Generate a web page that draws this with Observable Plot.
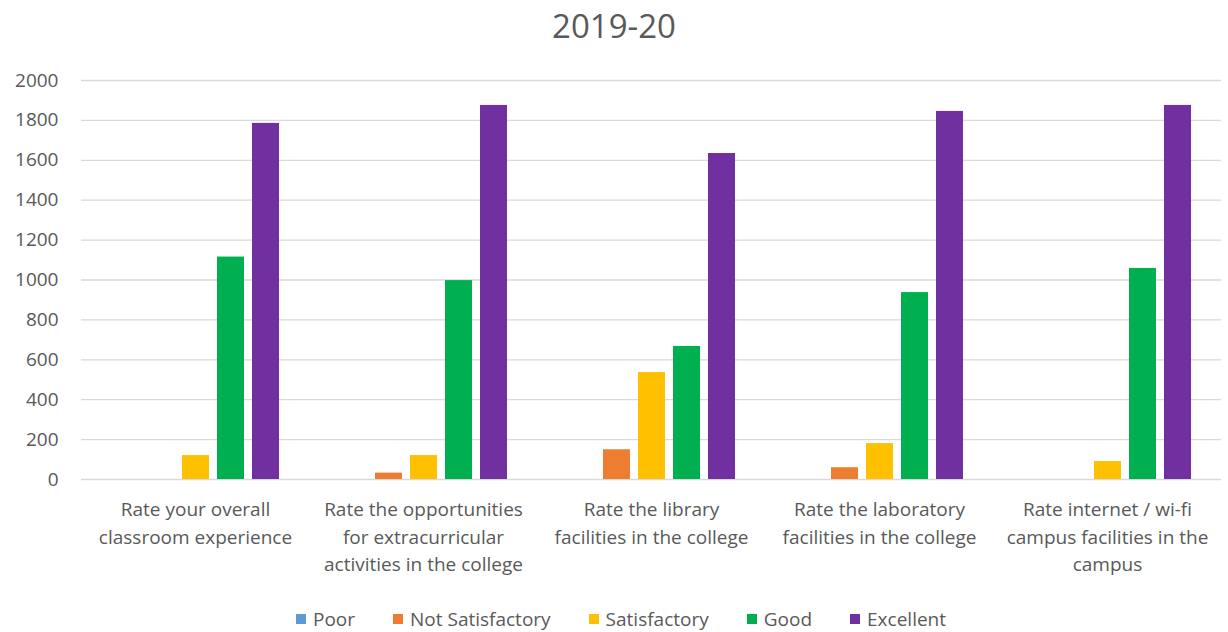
<!DOCTYPE html>
<html>
<head>
<meta charset="utf-8">
<script src="https://cdn.jsdelivr.net/npm/d3@7"></script>
<script src="https://cdn.jsdelivr.net/npm/@observablehq/plot@0.6"></script>
<style>
  body { margin: 0; background: #fff; font-family: "Open Sans", sans-serif; color: #595959; }
  #wrap { width: 1228px; height: 632px; position: relative; overflow: hidden; }
  #title { height: 55px; line-height: 52px; text-align: center; font-size: 33px; color: #595959; }
  #chart svg { display: block; }
  #legend { display: flex; justify-content: center; align-items: center; gap: 38px; font-size: 19px; color: #595959; height: 48px; padding-left: 14px; }
  .item { display: flex; align-items: center; gap: 7px; }
  .sw { width: 10px; height: 10px; display: inline-block; }
</style>
</head>
<body>
<div id="wrap">
  <div id="title">2019-20</div>
  <div id="chart"></div>
  <div id="legend"></div>
</div>
<script>
const categories = [
  "Rate your overall\nclassroom experience",
  "Rate the opportunities\nfor extracurricular\nactivities in the college",
  "Rate the library\nfacilities in the college",
  "Rate the laboratory\nfacilities in the college",
  "Rate internet / wi-fi\ncampus facilities in the\ncampus"
];
const ratings = ["Poor", "Not Satisfactory", "Satisfactory", "Good", "Excellent"];
const colors = ["#5B9BD5", "#ED7D31", "#FFC000", "#00B050", "#7030A0"];
const poor = [0, 0, 0, 0, 0];
const notSatisfactory = [0, 32, 149, 59, 0];
const satisfactory = [120, 120, 536, 180, 90];
const good = [1115, 997, 667, 937, 1058];
const excellent = [1785, 1875, 1634, 1845, 1875];
const yTicks = [0, 200, 400, 600, 800, 1000, 1200, 1400, 1600, 1800, 2000];

const series = [poor, notSatisfactory, satisfactory, good, excellent];
const data = [];
categories.forEach((c, i) => {
  ratings.forEach((r, j) => data.push({cat: c, rating: r, value: series[j][i]}));
});

const chart = Plot.plot({
  width: 1228,
  height: 540,
  marginTop: 25,
  marginLeft: 81,
  marginRight: 7,
  marginBottom: 116,
  style: {fontFamily: "'Open Sans', sans-serif", color: "#595959", background: "#fff"},
  fx: {domain: categories, padding: 0, label: null},
  x: {domain: ratings, paddingInner: 0.23, paddingOuter: 0.87, axis: null},
  y: {domain: [0, 2000], label: null},
  color: {domain: ratings, range: colors},
  marks: [
    Plot.gridY(yTicks, {stroke: "#d9d9d9", strokeOpacity: 1, strokeWidth: 1.3}),
    Plot.axisY(yTicks, {tickSize: 0, tickPadding: 23, fontSize: 19, fill: "#595959", label: null, tickFormat: d => String(d)}),
    Plot.axisFx({anchor: "bottom", tickSize: 0, tickPadding: 17, fontSize: 19, fill: "#595959", lineHeight: 1.45, label: null}),
    Plot.barY(data, {fx: "cat", x: "rating", y: "value", fill: "rating"})
  ]
});
document.getElementById("chart").appendChild(chart);

const legend = document.getElementById("legend");
ratings.forEach((r, i) => {
  const it = document.createElement("div");
  it.className = "item";
  const sw = document.createElement("span");
  sw.className = "sw";
  sw.style.background = colors[i];
  const t = document.createElement("span");
  t.textContent = r;
  it.appendChild(sw);
  it.appendChild(t);
  legend.appendChild(it);
});
</script>
</body>
</html>
